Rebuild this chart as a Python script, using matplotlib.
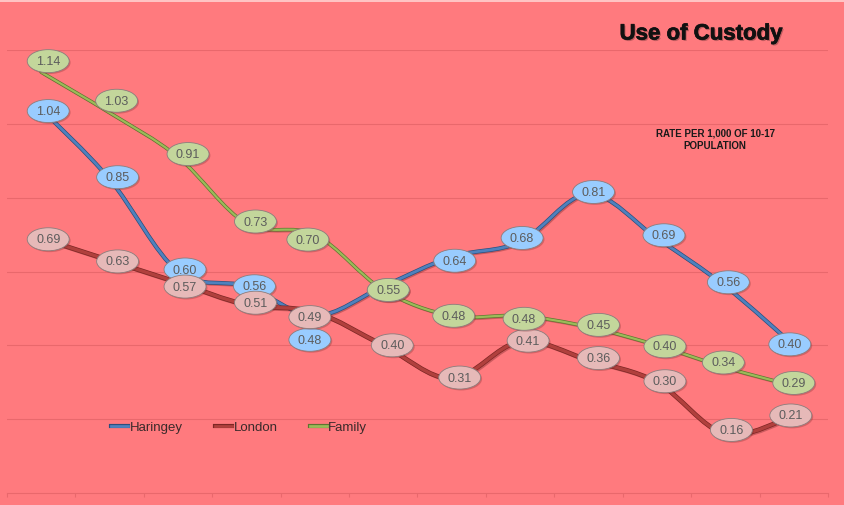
import matplotlib
matplotlib.use("Agg")
import numpy as np
import matplotlib.pyplot as plt
from matplotlib.path import Path
from matplotlib.patches import PathPatch
from matplotlib.lines import Line2D
import matplotlib.patheffects as pe

plt.rcParams['font.family'] = ['Liberation Sans', 'DejaVu Sans']

# Rate per 1,000 of the 10-17 population, twelve consecutive periods
periods = list(range(12))
haringey = [1.04, 0.85, 0.60, 0.56, 0.48, 0.56, 0.64, 0.68, 0.81, 0.69, 0.56, 0.40]
london = [0.69, 0.63, 0.57, 0.51, 0.49, 0.40, 0.31, 0.41, 0.36, 0.30, 0.16, 0.21]
family = [1.14, 1.03, 0.91, 0.73, 0.70, 0.55, 0.48, 0.48, 0.45, 0.40, 0.34, 0.29]
series_names = ["Haringey", "London", "Family"]

# data label nudges (pixels) so the bubbles do not collide
label_dx = {
    "Haringey": [7, 8, 7, 8, -5, 5, 3, 2, 5, 7, 3, -4],
    "London":   [7, 8, 7, 9, -5, 9, 8, 8, 10, 8, 6, -3],
    "Family":   [7, 7, 10, 9, -7, 5, 2, 4, 10, 8, -2, 0],
}
label_dy = {
    "Haringey": [-2, 2, 2, 0, -24, -4, -4, 4, 2, 3, 4, 1],
    "London":   [-1, -1, -4, 2, -5, 0, 1, 1, 2, 1, 4, 0],
    "Family":   [11, 12, 3, 2, -5, 0, 0, -3, 2, -1, 5, 3],
}

styles = {
    "Haringey": dict(line="#4F81BD", edge="#2B4F7E", fill="#99CCFF", lw=2.0),
    "London":   dict(line="#B0403D", edge="#7E2624", fill="#E6B9B8", lw=2.4),
    "Family":   dict(line="#9BBB59", edge="#5F7530", fill="#C3D69B", lw=1.6),
}

BG = "#FF7A7E"
GRID = "#E9686C"
BUBBLE_W, BUBBLE_H = 42.0, 23.0  # data label bubble size in pixels


def smooth_path(xs, ys):
    """Cardinal-spline Bezier through the points (like a smoothed line)."""
    n = len(xs)
    verts = [(xs[0], ys[0])]
    codes = [Path.MOVETO]
    for i in range(n - 1):
        a = i - 1 if i > 0 else i
        d = i + 2 if i + 2 < n else i + 1
        c1 = (xs[i] + (xs[i + 1] - xs[a]) / 6.0, ys[i] + (ys[i + 1] - ys[a]) / 6.0)
        c2 = (xs[i + 1] - (xs[d] - xs[i]) / 6.0, ys[i + 1] - (ys[d] - ys[i]) / 6.0)
        verts += [c1, c2, (xs[i + 1], ys[i + 1])]
        codes += [Path.CURVE4] * 3
    return Path(verts, codes)


def bubble(x0, y0, width, height, mutation_size):
    """Fixed-size ellipse centred on the text box."""
    circ = Path.unit_circle()
    cx, cy = x0 + width / 2.0, y0 + height / 2.0
    verts = circ.vertices * np.array([BUBBLE_W / 2.0, BUBBLE_H / 2.0]) + np.array([cx, cy])
    return Path(verts, circ.codes)


fig = plt.figure(figsize=(8.44, 5.06), dpi=100, facecolor=BG)
ax = fig.add_axes([7 / 844, 12 / 506, 821 / 844, 443 / 506])
ax.set_facecolor(BG)
ax.set_xlim(-0.5, 11.5)
ax.set_ylim(0, 1.2)

# light strip along the top edge of the frame
fig.patches.append(plt.Rectangle((0, 1 - 3 / 506), 1, 3 / 506, transform=fig.transFigure,
                                 facecolor="#FFC4C4", edgecolor="none"))

for spine in ["top", "right", "left"]:
    ax.spines[spine].set_visible(False)
ax.spines["bottom"].set_color(GRID)
ax.spines["bottom"].set_linewidth(0.8)
ax.set_yticks([0.2, 0.4, 0.6, 0.8, 1.0, 1.2])
ax.yaxis.grid(True, color=GRID, linewidth=0.8)
ax.set_axisbelow(True)
ax.tick_params(axis="y", length=0, labelleft=False)
ax.set_xticks([i - 0.5 for i in range(13)])
ax.tick_params(axis="x", length=3, color=GRID, direction="out", labelbottom=False)

values = {"Haringey": haringey, "London": london, "Family": family}

for k, name in enumerate(series_names):
    st = styles[name]
    patch = PathPatch(smooth_path(periods, values[name]), fill=False,
                      edgecolor=st["line"], lw=st["lw"], zorder=3 + k,
                      capstyle="round", joinstyle="round")
    patch.set_path_effects([
        pe.SimpleLineShadow(offset=(1.2, -1.2), shadow_color="#6B2020", alpha=0.35),
        pe.Stroke(linewidth=st["lw"] + 1.0, foreground=st["edge"]),
        pe.Normal(),
    ])
    ax.add_patch(patch)

for k, name in enumerate(series_names):
    st = styles[name]
    for i, v in enumerate(values[name]):
        t = ax.annotate(f"{v:.2f}", (periods[i], v),
                        xytext=(label_dx[name][i], label_dy[name][i]),
                        textcoords="offset pixels", ha="center", va="center",
                        fontsize=9, color="#5C5C5C", zorder=10 + k,
                        bbox=dict(boxstyle=bubble, facecolor=st["fill"],
                                  edgecolor="#8C7C7C", linewidth=0.6))
        t.get_bbox_patch().set_path_effects([
            pe.SimplePatchShadow(offset=(1, -1), shadow_rgbFace="#7A2A2A", alpha=0.3),
            pe.Normal(),
        ])

handles = [Line2D([], [], color=styles[n]["line"], lw=2.0,
                  path_effects=[pe.Stroke(linewidth=3.0, foreground=styles[n]["edge"]), pe.Normal()])
           for n in series_names]
ax.legend(handles, series_names, loc="center left", bbox_to_anchor=(99 / 821, (494 - 428) / 443),
          ncol=3, frameon=False, fontsize=9.5, handlelength=1.3, handletextpad=0.1,
          columnspacing=2.45, labelcolor="#3A2A2A", borderaxespad=0)

fig.text(701 / 844, 1 - 35 / 506, "Use of Custody", ha="center", va="center",
         fontsize=16, fontweight="bold", color="#111111",
         path_effects=[pe.SimplePatchShadow(offset=(1.0, -1.0), shadow_rgbFace="#000000", alpha=0.25),
                       pe.Stroke(linewidth=0.5, foreground="#111111"), pe.Normal()])
fig.text(715 / 844, 1 - 140 / 506, "RATE PER 1,000 OF 10-17\nPOPULATION", ha="center", va="center",
         fontsize=7, fontweight="bold", color="#1A1A1A", linespacing=1.25)

fig.savefig("out.png", dpi=100, facecolor=BG)
